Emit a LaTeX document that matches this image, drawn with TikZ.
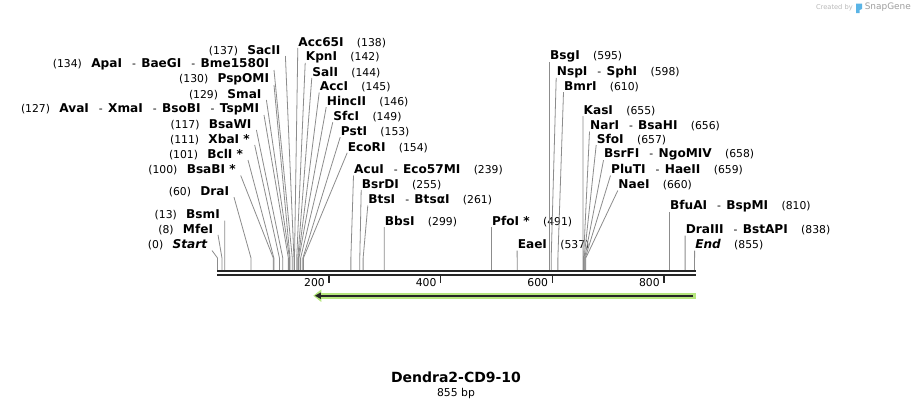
\documentclass[tikz,border=0pt]{standalone}
\usepackage{fontspec}
\setmainfont{DejaVu Sans}
\usepackage{xcolor}
\usetikzlibrary{
  arrows.meta,
  positioning,
  calc
}

\definecolor{featgreen}{HTML}{B5E67D}
\definecolor{bardark}{HTML}{262626}
\definecolor{cutgray}{HTML}{8C8C8C}
\definecolor{logoblue}{HTML}{5AB4E6}

\newcommand{\numfont}{\fontsize{8.1}{9}\selectfont}
\newcommand{\enzfont}{\fontsize{9.1}{10}\selectfont\bfseries}
\newcommand{\bpx}[1]{217.5+0.558*#1}
\newcommand{\sepx}{\hspace{7.5pt}{\mdseries\numfont-}\hspace{4pt}}
\newcommand{\lsite}[2]{{\numfont(#1)}\hspace{7pt}{\enzfont #2}}
\newcommand{\rsite}[2]{{\enzfont #1}\hspace{10pt}{\numfont(#2)}}

\begin{document}
\begin{tikzpicture}[
      x=0.75pt, y=-0.75pt,
      cutline/.style={draw=cutgray, line width=0.6pt},
      lsitebox/.style={anchor=south east, inner xsep=3.5pt, inner ysep=0pt},
      rsitebox/.style={anchor=south west, inner xsep=0.3pt, inner ysep=0pt},
      seqbar/.style={draw=bardark, line width=1.6pt},
      ticklbl/.style={font=\numfont, anchor=east, inner sep=0pt}
  ]
      \fill[white] (0,0) rectangle (913,408);
      \useasboundingbox (0,0) rectangle (913,408);

      % Credit
      \node[font=\fontsize{5}{6}\selectfont, text=gray!55, anchor=east, inner sep=0pt] (credit) at (853,8) {Created by};
      \fill[logoblue] (856,3.5) -- (862,3.5) -- (862,9) -- (859.5,10) -- (859.5,13) -- (856,13) -- cycle;
      \node[font=\fontsize{6.7}{8}\selectfont, text=gray!75, anchor=west, inner sep=0pt] (brand) at (864.5,7.5) {SnapGene};

      % Cut sites on the bar
      \foreach \b in {0,8,13,60,100,101,111,117,127,129,130,134,137,
                      138,142,144,145,146,149,153,154,239,255,261,299,491,537,
                      595,598,610,655,656,657,658,659,660,810,838,855}
          \coordinate (c\b) at ({\bpx{\b}},270);

      % Left labels
      \node[lsitebox] (lStart) at (212,250.5) {\lsite{0}{\itshape Start}};
      \node[lsitebox] (lMfeI) at (218,234.8) {\lsite{8}{MfeI}};
      \node[lsitebox] (lBsmI) at (224.8,220.5) {\lsite{13}{BsmI}};
      \node[lsitebox] (lDraI) at (234,197.2) {\lsite{60}{DraI}};
      \node[lsitebox] (lBsaBI) at (240.7,175.5) {\lsite{100}{BsaBI *}};
      \node[lsitebox] (lBclI) at (248,160) {\lsite{101}{BclI *}};
      \node[lsitebox] (lXbaI) at (254.7,145) {\lsite{111}{XbaI *}};
      \node[lsitebox] (lBsaWI) at (256.4,130) {\lsite{117}{BsaWI}};
      \node[lsitebox] (lAvaI) at (264,115) {\lsite{127}{AvaI\sepx XmaI\sepx BsoBI\sepx TspMI}};
      \node[lsitebox] (lSmaI) at (266.4,100) {\lsite{129}{SmaI}};
      \node[lsitebox] (lPspOMI) at (274,85) {\lsite{130}{PspOMI}};
      \node[lsitebox] (lApaI) at (274,70) {\lsite{134}{ApaI\sepx BaeGI\sepx Bme1580I}};
      \node[lsitebox] (lSacII) at (285.4,56) {\lsite{137}{SacII}};

      % Right labels
      \node[rsitebox] (rAcc65I) at (297.8,47.8) {\rsite{Acc65I}{138}};
      \node[rsitebox] (rKpnI) at (305.2,62.8) {\rsite{KpnI}{142}};
      \node[rsitebox] (rSalI) at (311.8,77.8) {\rsite{SalI}{144}};
      \node[rsitebox] (rAccI) at (319.2,92.5) {\rsite{AccI}{145}};
      \node[rsitebox] (rHincII) at (326.2,107.2) {\rsite{HincII}{146}};
      \node[rsitebox] (rSfcI) at (332.8,122.2) {\rsite{SfcI}{149}};
      \node[rsitebox] (rPstI) at (340.2,137.2) {\rsite{PstI}{153}};
      \node[rsitebox] (rEcoRI) at (347.2,152.8) {\rsite{EcoRI}{154}};
      \node[rsitebox] (rAcuI) at (353.5,175.5) {\rsite{AcuI\sepx Eco57MI}{239}};
      \node[rsitebox] (rBsrDI) at (361.2,189.8) {\rsite{BsrDI}{255}};
      \node[rsitebox] (rBtsI) at (367.8,205.5) {\rsite{BtsI\sepx BtsαI}{261}};
      \node[rsitebox] (rBbsI) at (384.3,227.2) {\rsite{BbsI}{299}};
      \node[rsitebox] (rPfoI) at (491.5,227.2) {\rsite{PfoI *}{491}};
      \node[rsitebox] (rEaeI) at (517.1,250.5) {\rsite{EaeI}{537}};
      \node[rsitebox] (rBsgI) at (549.5,62.2) {\rsite{BsgI}{595}};
      \node[rsitebox] (rNspI) at (556.2,77.8) {\rsite{NspI\sepx SphI}{598}};
      \node[rsitebox] (rBmrI) at (563.5,92.2) {\rsite{BmrI}{610}};
      \node[rsitebox] (rKasI) at (583,116.2) {\rsite{KasI}{655}};
      \node[rsitebox] (rNarI) at (589.5,131.5) {\rsite{NarI\sepx BsaHI}{656}};
      \node[rsitebox] (rSfoI) at (596.2,145) {\rsite{SfoI}{657}};
      \node[rsitebox] (rBsrFI) at (603.5,160.2) {\rsite{BsrFI\sepx NgoMIV}{658}};
      \node[rsitebox] (rPluTI) at (610.5,175.5) {\rsite{PluTI\sepx HaeII}{659}};
      \node[rsitebox] (rNaeI) at (617.8,190.5) {\rsite{NaeI}{660}};
      \node[rsitebox] (rBfuAI) at (669.5,212.2) {\rsite{BfuAI\sepx BspMI}{810}};
      \node[rsitebox] (rDraIII) at (685.1,235.5) {\rsite{DraIII\sepx BstAPI}{838}};
      \node[rsitebox] (rEnd) at (694.6,250.5) {\rsite{\itshape End}{855}};

      % Site lines
      \foreach \b/\n in {0/lStart,8/lMfeI,13/lBsmI,60/lDraI,100/lBsaBI,101/lBclI,
                         111/lXbaI,117/lBsaWI,127/lAvaI,129/lSmaI,130/lPspOMI,
                         134/lApaI,137/lSacII}
          \draw[cutline] (c\b) -- ++(0,-12) -- (\n.south east);
      \foreach \b/\n in {138/rAcc65I,142/rKpnI,144/rSalI,145/rAccI,146/rHincII,
                         149/rSfcI,153/rPstI,154/rEcoRI,239/rAcuI,255/rBsrDI,
                         261/rBtsI,299/rBbsI,491/rPfoI,537/rEaeI,595/rBsgI,
                         598/rNspI,610/rBmrI,655/rKasI,656/rNarI,657/rSfoI,
                         658/rBsrFI,659/rPluTI,660/rNaeI,810/rBfuAI,838/rDraIII,
                         855/rEnd}
          \draw[cutline] (c\b) -- ++(0,-12) -- (\n.south west);

      % Sequence bar
      \coordinate (bStart) at (217.3,271);
      \coordinate (bEnd) at (695.5,271);
      \draw[seqbar] (bStart) -- (bEnd);
      \draw[seqbar] ($(bStart)+(0,3.6)$) -- ($(bEnd)+(0,3.6)$);
      \foreach \t in {200,400,600,800} {
          \draw[bardark, line width=1.1pt] ({\bpx{\t}},275.5) -- ++(0,7.5);
          \node[ticklbl] (t\t) at ({\bpx{\t}-4},282.3) {\t};
      }

      % Feature
      \coordinate (fFrom) at (695.7,295.7);
      \coordinate (fTo) at (313.3,295.7);
      \draw[featgreen, line width=4.5pt, -{Triangle[length=6pt, width=9pt]}] (fFrom) -- (fTo);
      \draw[bardark, line width=1.4pt, -{Triangle[length=4.5pt, width=4.5pt]}]
          ($(fFrom)+(-2.5,0)$) -- ($(fTo)+(1.5,0)$);

      % Title
      \node[font=\fontsize{10.5}{12}\selectfont\bfseries] (title) at (456,377) {Dendra2-CD9-10};
      \node[font=\numfont] (size) at (456,393.5) {855 bp};
  \end{tikzpicture}
\end{document}
